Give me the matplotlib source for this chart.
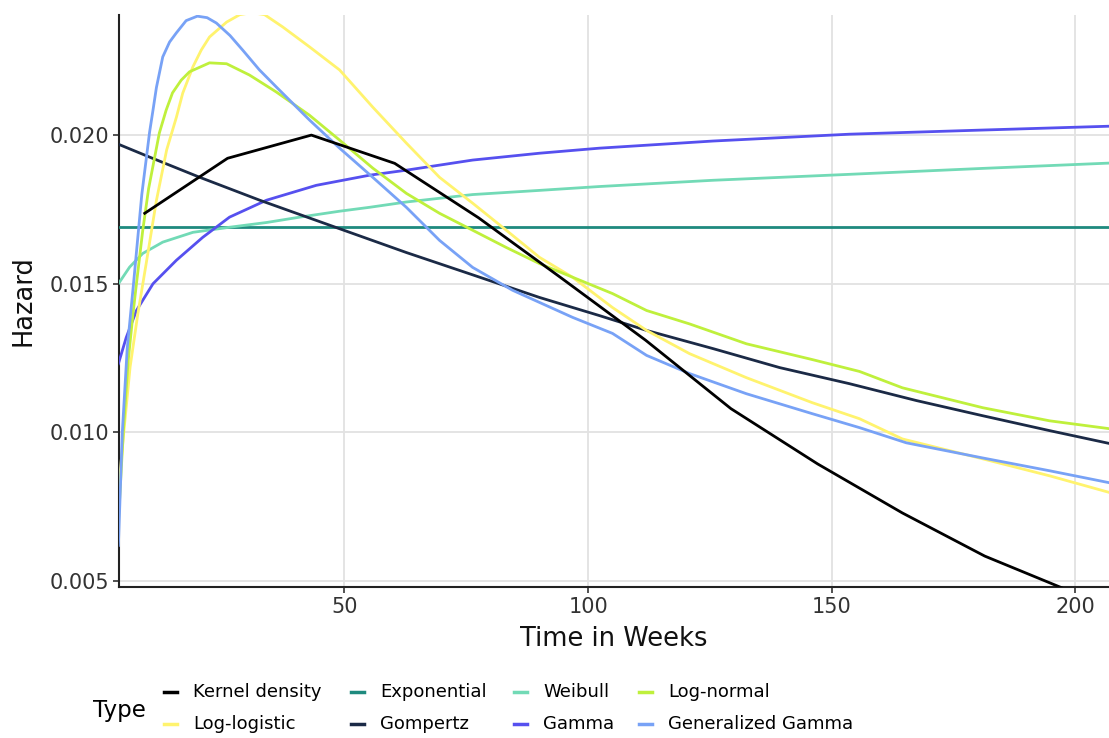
import matplotlib
matplotlib.use("Agg")
import matplotlib.pyplot as plt
from matplotlib.lines import Line2D

plt.rcParams["font.family"] = ["DejaVu Sans"]

# hazard estimates by model, time in weeks
kernel_t = [9.0, 26.0, 43.2, 60.3, 77.5, 94.6, 111.8, 129.3, 147.1, 164.5, 181.4, 198.6]
kernel_h = [0.01737, 0.01922, 0.02000, 0.01905, 0.01722, 0.01518, 0.01310, 0.01080,
            0.00894, 0.00729, 0.00584, 0.00468]

expo_t = [3.6, 207.0]
expo_h = [0.01691, 0.01691]

weibull_t = [3.6, 5.9, 8.6, 12.7, 18.9, 26.4, 34.0, 40.8, 49.0, 55.1, 62.7, 76.3, 90.0,
             102.3, 125.6, 153.6, 181.0, 207.2]
weibull_h = [0.01500, 0.01556, 0.01602, 0.01640, 0.01673, 0.01690, 0.01706, 0.01724,
             0.01744, 0.01757, 0.01775, 0.01800, 0.01814, 0.01827, 0.01848, 0.01868,
             0.01888, 0.01906]

lognorm_t = [3.6, 4.6, 5.6, 6.6, 7.3, 8.6, 9.8, 12.0, 13.4, 14.7, 16.5, 18.2, 22.3, 25.8,
             30.5, 36.0, 42.8, 49.0, 55.8, 62.7, 69.5, 76.3, 83.2, 90.0, 96.8, 105.0,
             112.0, 120.8, 132.5, 146.0, 155.7, 164.5, 181.0, 194.7, 207.2]
lognorm_h = [0.0070, 0.0100, 0.0124, 0.0140, 0.0150, 0.0168, 0.0182, 0.02007, 0.02084,
             0.02142, 0.02185, 0.02213, 0.02243, 0.02240, 0.02202, 0.02145, 0.02067,
             0.01983, 0.01889, 0.01804, 0.01737, 0.01680, 0.01622, 0.01568, 0.01522,
             0.01467, 0.01410, 0.01365, 0.01298, 0.01245, 0.01205, 0.01150, 0.01083,
             0.01039, 0.01012]

loglogis_t = [3.6, 4.7, 6.0, 7.6, 9.3, 11.4, 13.5, 15.5, 16.8, 18.9, 20.6, 22.3, 25.8,
              28.5, 31.0, 33.6, 37.3, 42.8, 49.0, 55.8, 62.7, 69.5, 76.3, 83.2, 90.0,
              96.8, 105.0, 112.0, 120.8, 132.5, 146.0, 155.7, 164.5, 181.0, 194.7, 207.2]
loglogis_h = [0.0080, 0.0100, 0.0122, 0.0140, 0.01568, 0.0178, 0.0195, 0.0206, 0.02141,
              0.0223, 0.02286, 0.0233, 0.0238, 0.02405, 0.02412, 0.02405, 0.02364,
              0.02297, 0.02219, 0.02094, 0.01973, 0.01858, 0.01771, 0.01680, 0.01589,
              0.01522, 0.01420, 0.01343, 0.01265, 0.01184, 0.01100, 0.01046, 0.00978,
              0.00911, 0.00854, 0.00797]

gompertz_t = [3.5, 10.0, 20.3, 32.6, 49.0, 62.7, 76.3, 90.0, 102.3, 112.0, 125.6, 139.3,
              153.6, 167.4, 181.0, 194.7, 207.2]
gompertz_h = [0.01970, 0.01926, 0.01858, 0.01781, 0.01685, 0.01605, 0.01530, 0.01454,
              0.01393, 0.01343, 0.01282, 0.01218, 0.01164, 0.01107, 0.01056, 0.01006,
              0.00962]

gamma_t = [3.6, 5.2, 7.3, 10.7, 15.5, 20.9, 26.4, 34.0, 44.2, 55.1, 62.7, 76.3, 90.0,
           102.3, 125.6, 153.6, 181.0, 207.2]
gamma_h = [0.01231, 0.01319, 0.01410, 0.01500, 0.01579, 0.01656, 0.01724, 0.01781,
           0.01831, 0.01865, 0.01882, 0.01916, 0.01939, 0.01956, 0.01980, 0.02003,
           0.02017, 0.02030]

gengamma_t = [3.6, 4.4, 5.4, 6.7, 8.4, 10.0, 10.7, 11.4, 12.7, 14.1, 15.5, 17.5, 19.8,
              21.8, 23.7, 26.5, 29.1, 32.5, 36.0, 42.8, 49.0, 55.8, 62.7, 69.5, 76.3,
              84.5, 96.8, 105.0, 112.0, 120.8, 132.5, 146.0, 155.7, 165.3, 181.0, 194.7,
              207.2]
gengamma_h = [0.0062, 0.0100, 0.0128, 0.0150, 0.0180, 0.0201, 0.02084, 0.0216, 0.02263,
              0.02313, 0.02344, 0.02385, 0.02400, 0.02395, 0.02377, 0.02335, 0.02286,
              0.02220, 0.02162, 0.02051, 0.01956, 0.01858, 0.01757, 0.01646, 0.01555,
              0.01478, 0.01387, 0.01333, 0.01259, 0.01198, 0.01130, 0.01063, 0.01016,
              0.00965, 0.00914, 0.00871, 0.00830]

series = [
    ("Kernel density", kernel_t, kernel_h, "#000000"),
    ("Exponential", expo_t, expo_h, "#1e8a7e"),
    ("Weibull", weibull_t, weibull_h, "#72dab6"),
    ("Log-normal", lognorm_t, lognorm_h, "#bff03c"),
    ("Log-logistic", loglogis_t, loglogis_h, "#fff36e"),
    ("Gompertz", gompertz_t, gompertz_h, "#1b2a46"),
    ("Gamma", gamma_t, gamma_h, "#5650ef"),
    ("Generalized Gamma", gengamma_t, gengamma_h, "#78a2f6"),
]

# draw order: later entries sit on top
draw_order = ["Exponential", "Weibull", "Gamma", "Gompertz", "Log-logistic",
              "Log-normal", "Generalized Gamma", "Kernel density"]

fig = plt.figure(figsize=(11.09, 7.38), dpi=100)
ax = fig.add_axes([0.1069, 0.2046, 0.8931, 0.7751])

lookup = {s[0]: s for s in series}
for name in draw_order:
    _, t, h, col = lookup[name]
    ax.plot(t, h, color=col, lw=2.0, solid_joinstyle="round", zorder=3)

ax.set_xlim(3.63, 206.9)
ax.set_ylim(0.0048, 0.02404)
ax.set_xticks([50, 100, 150, 200])
ax.set_yticks([0.005, 0.010, 0.015, 0.020])
ax.set_yticklabels(["0.005", "0.010", "0.015", "0.020"])
ax.grid(True, color="#e2e2e2", lw=1.3, zorder=0)
ax.set_axisbelow(True)

for side in ["top", "right"]:
    ax.spines[side].set_visible(False)
for side in ["left", "bottom"]:
    ax.spines[side].set_color("#222222")
    ax.spines[side].set_linewidth(1.5)

ax.tick_params(axis="both", labelsize=15, colors="#333333", length=4, width=1.2, pad=3)

ax.set_xlabel("Time in Weeks", fontsize=18.5, color="#111111")
ax.set_ylabel("Hazard", fontsize=18.5, color="#111111")
ax.xaxis.set_label_coords(0.5, -0.068)
ax.yaxis.set_label_coords(-0.083, 0.5)

# legend laid out in two rows under the plot
fig.text(93 / 1109, 1 - 710 / 738, "Type", fontsize=16.5, ha="left", va="center")
key_x = [164, 351, 514, 639]
row_y = [692, 724]
for i, (name, _, _, col) in enumerate(series):
    row, colm = divmod(i, 4)
    x0 = key_x[colm] / 1109
    y0 = 1 - row_y[row] / 738
    fig.add_artist(Line2D([x0, x0 + 13 / 1109], [y0, y0], color=col, lw=2.5,
                          transform=fig.transFigure))
    fig.text(x0 + 29 / 1109, y0, name, fontsize=13, ha="left", va="center")

fig.savefig("out.png", dpi=100)
